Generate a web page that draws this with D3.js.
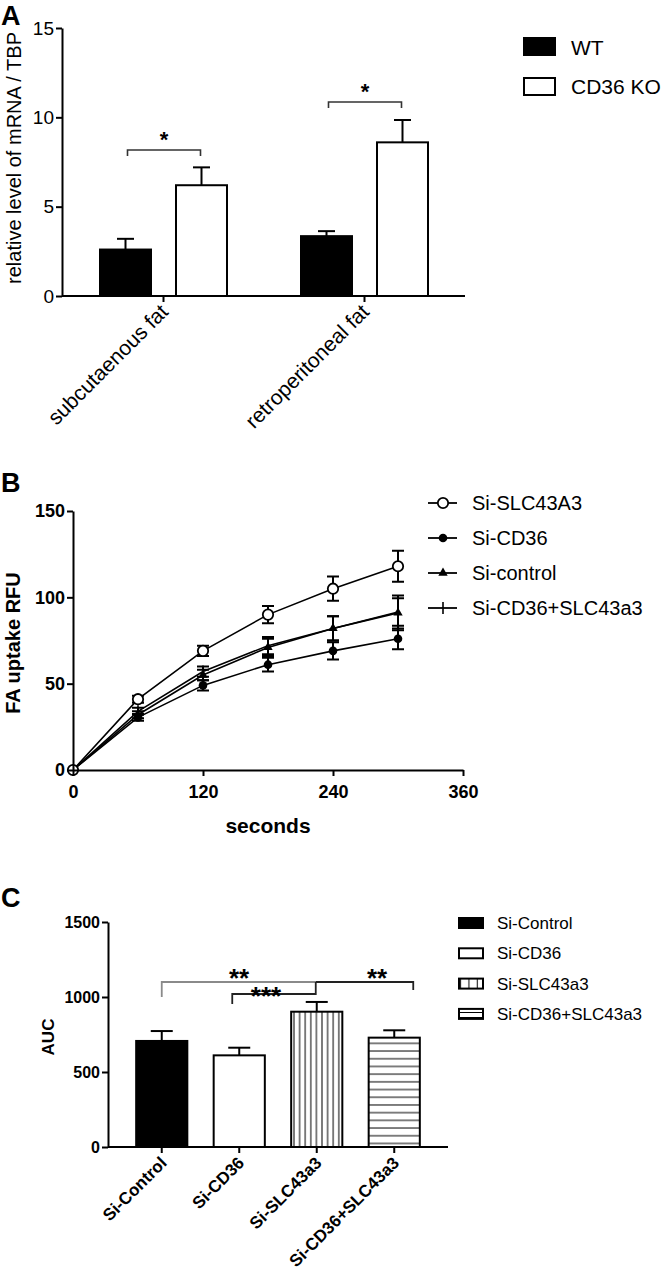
<!DOCTYPE html>
<html><head><meta charset="utf-8">
<script src="https://cdn.jsdelivr.net/npm/d3@7"></script>
<style>
body{margin:0;background:#fff}
svg{display:block}
text{font-family:"Liberation Sans",Arial,Helvetica,sans-serif;fill:#000}
</style>
</head><body>
<svg id="c" width="667" height="1274"></svg>
<script>
// ---------------- Panel A data ----------------
const aGroups = ["subcutaenous fat", "retroperitoneal fat"];
const aSeries = ["WT", "CD36 KO"];
const aWT = [2.6, 3.35];
const aKO = [6.2, 8.6];
const aWTerr = [0.6, 0.28];
const aKOerr = [1.0, 1.25];
const aYTicks = [0, 5, 10, 15];
const aSigY = [8.17, 10.86];
const aSigLeg = [7.84, 10.52];
const aSigLabel = ["*", "*"];

// ---------------- Panel B data ----------------
const bTimes = [0, 60, 120, 180, 240, 300];
const bNames = ["Si-SLC43A3", "Si-CD36", "Si-control", "Si-CD36+SLC43a3"];
const bSLC = [0, 41, 69, 90, 105, 118];
const bSLCerr = [0, 2, 3, 5, 7, 9];
const bCD36 = [0, 30.5, 49, 61, 69, 76];
const bCD36err = [0, 2, 3, 4, 5, 6];
const bControl = [0, 32, 55, 71, 82, 91];
const bControlErr = [0, 2, 3, 5, 7, 10];
const bCombo = [0, 34, 57, 72, 82, 91.5];
const bComboErr = [0, 2, 3, 5, 7, 8];
const bXTicks = [0, 120, 240, 360];
const bYTicks = [0, 50, 100, 150];

// ---------------- Panel C data ----------------
const cCats = ["Si-Control", "Si-CD36", "Si-SLC43a3", "Si-CD36+SLC43a3"];
const cValues = [707, 611, 902, 729];
const cErrors = [66, 51, 65, 49];
const cYTicks = [0, 500, 1000, 1500];

const svg = d3.select("#c");
const defs = svg.append("defs");
function stripes(id, w, h, vertical) {
  const p = defs.append("pattern").attr("id", id).attr("patternUnits", "userSpaceOnUse")
    .attr("width", w).attr("height", h);
  p.append("rect").attr("width", w).attr("height", h).attr("fill", "#fff");
  if (vertical) p.append("line").attr("x1", w/2).attr("x2", w/2).attr("y1", 0).attr("y2", h).attr("stroke", "#000").attr("stroke-width", 1);
  else p.append("line").attr("x1", 0).attr("x2", w).attr("y1", h/2).attr("y2", h/2).attr("stroke", "#000").attr("stroke-width", 1);
}
stripes("vstr", 5.6, 10, true);
stripes("hstr", 10, 7.7, false);
stripes("vstrL", 8.3, 10, true);
stripes("hstrL", 10, 5, false);

function styleAxis(g, fs, bold) {
  g.selectAll("path,line").attr("stroke", "#000").attr("stroke-width", 2);
  g.selectAll("text").attr("font-size", fs).attr("font-weight", bold ? "bold" : "normal")
    .attr("font-family", '"Liberation Sans",Arial,sans-serif').attr("fill", "#000");
}

// ================= Panel A =================
svg.append("text").attr("x", 1).attr("y", 25).attr("font-size", 27).attr("font-weight", "bold").text("A");
const aY = d3.scaleLinear().domain([0, 15]).range([296, 28]);
const aX0 = d3.scaleBand().domain(aGroups).range([63, 465]);
const aX1 = d3.scaleBand().domain(aSeries).range([37, 164]).paddingInner(0.329);
const aVals = [aWT, aKO], aErrs = [aWTerr, aKOerr];
const aFill = ["#000", "#fff"];
aGroups.forEach((g, gi) => {
  aSeries.forEach((s, si) => {
    const x = aX0(g) + aX1(s), w = aX1.bandwidth(), v = aVals[si][gi], e = aErrs[si][gi];
    const cx = x + w/2;
    svg.append("line").attr("x1", cx).attr("x2", cx).attr("y1", aY(v)).attr("y2", aY(v + e)).attr("stroke", "#000").attr("stroke-width", 2);
    svg.append("line").attr("x1", cx - 8.5).attr("x2", cx + 8.5).attr("y1", aY(v + e)).attr("y2", aY(v + e)).attr("stroke", "#000").attr("stroke-width", 2);
    svg.append("rect").attr("x", x).attr("y", aY(v)).attr("width", w).attr("height", aY(0) - aY(v))
      .attr("fill", aFill[si]).attr("stroke", "#000").attr("stroke-width", 2);
  });
  const xl = aX0(g) + aX1(aSeries[0]) + aX1.bandwidth()/2 + 2;
  const xr = aX0(g) + aX1(aSeries[1]) + aX1.bandwidth()/2 - 1;
  svg.append("path").attr("d", `M${xl},${aY(aSigLeg[gi])}V${aY(aSigY[gi])}H${xr}V${aY(aSigLeg[gi])}`)
    .attr("fill", "none").attr("stroke", "#333").attr("stroke-width", 1.6);
  svg.append("text").attr("x", (xl + xr)/2).attr("y", aY(aSigY[gi]) - 3).attr("text-anchor", "middle")
    .attr("font-size", 22).attr("font-weight", "bold").text(aSigLabel[gi]);
});
const aYAxis = svg.append("g").attr("transform", "translate(62,0)")
  .call(d3.axisLeft(aY).tickValues(aYTicks).tickSize(6).tickPadding(2).tickSizeOuter(0));
styleAxis(aYAxis, 19, false);
const aXAxis = svg.append("g").attr("transform", "translate(0,296)")
  .call(d3.axisBottom(aX0).tickSize(6).tickSizeOuter(0));
aXAxis.select(".domain").attr("d", "M62,0H465");
styleAxis(aXAxis, 21, false);
aXAxis.selectAll("text").attr("text-anchor", "end").attr("dy", 0).attr("y", 0)
  .attr("transform", "translate(6,17) rotate(-45)");
svg.append("text").attr("transform", "translate(21,158) rotate(-90)").attr("text-anchor", "middle")
  .attr("font-size", 20).text("relative level of mRNA / TBP");
aSeries.forEach((s, i) => {
  svg.append("rect").attr("x", 524).attr("y", 38 + i*40).attr("width", 31).attr("height", 17)
    .attr("fill", aFill[i]).attr("stroke", "#000").attr("stroke-width", 2);
  svg.append("text").attr("x", 571).attr("y", 55 + i*39).attr("font-size", 21).text(s);
});

// ================= Panel B =================
svg.append("text").attr("x", 1).attr("y", 492).attr("font-size", 27).attr("font-weight", "bold").text("B");
const bX = d3.scaleLinear().domain([0, 360]).range([73, 463]);
const bY = d3.scaleLinear().domain([0, 150]).range([770, 511]);
const bData = [[bSLC, bSLCerr], [bCD36, bCD36err], [bControl, bControlErr], [bCombo, bComboErr]];
const line = d3.line().x((d, i) => bX(bTimes[i])).y(d => bY(d));
bData.forEach(([v]) => {
  svg.append("path").attr("d", line(v)).attr("fill", "none").attr("stroke", "#000").attr("stroke-width", 1.6);
});
bData.forEach(([v, e]) => {
  v.forEach((d, i) => {
    if (!e[i]) return;
    const x = bX(bTimes[i]);
    svg.append("path").attr("d", `M${x},${bY(d - e[i])}V${bY(d + e[i])}M${x-6},${bY(d - e[i])}H${x+6}M${x-6},${bY(d + e[i])}H${x+6}`)
      .attr("fill", "none").attr("stroke", "#000").attr("stroke-width", 2);
  });
});
function marker(sel, k) {
  if (k === 0) sel.append("circle").attr("r", 5.2).attr("fill", "#fff").attr("stroke", "#000").attr("stroke-width", 1.8);
  else if (k === 1) sel.append("circle").attr("r", 4.3).attr("fill", "#000");
  else if (k === 2) sel.append("path").attr("d", d3.symbol().type(d3.symbolTriangle).size(38)()).attr("fill", "#000");
  else sel.append("path").attr("d", "M0,-6V6").attr("stroke", "#000").attr("stroke-width", 1.6);
}
[3, 2, 1, 0].forEach(k => {
  bData[k][0].forEach((d, i) => {
    const g = svg.append("g").attr("transform", `translate(${bX(bTimes[i])},${bY(d)})`);
    marker(g, k);
  });
});
const bYAxis = svg.append("g").attr("transform", "translate(73,0)")
  .call(d3.axisLeft(bY).tickValues(bYTicks).tickSize(6).tickPadding(2).tickSizeOuter(0));
styleAxis(bYAxis, 18, true);
const bXAxis = svg.append("g").attr("transform", "translate(0,770)")
  .call(d3.axisBottom(bX).tickValues(bXTicks).tickSize(6).tickPadding(9).tickSizeOuter(0));
styleAxis(bXAxis, 18, true);
svg.append("text").attr("transform", "translate(20,643) rotate(-90)").attr("text-anchor", "middle")
  .attr("font-size", 20).attr("font-weight", "bold").text("FA uptake RFU");
svg.append("text").attr("x", 268).attr("y", 833).attr("text-anchor", "middle")
  .attr("font-size", 21).attr("font-weight", "bold").text("seconds");
bNames.forEach((n, k) => {
  const y = 503 + k*35;
  svg.append("line").attr("x1", 428).attr("x2", 457).attr("y1", y).attr("y2", y).attr("stroke", "#000").attr("stroke-width", 1.8);
  marker(svg.append("g").attr("transform", `translate(443,${y})`), k);
  svg.append("text").attr("x", 472).attr("y", y + 7).attr("font-size", 20).text(n);
});

// ================= Panel C =================
svg.append("text").attr("x", 1).attr("y", 907).attr("font-size", 27).attr("font-weight", "bold").text("C");
const cX = d3.scaleBand().domain(cCats).range([123, 433]).paddingInner(0.34).paddingOuter(0.17);
const cY = d3.scaleLinear().domain([0, 1500]).range([1147, 922]);
const cFill = ["#000", "#fff", "url(#vstr)", "url(#hstr)"];
const cFillL = ["#000", "#fff", "url(#vstrL)", "url(#hstrL)"];
cCats.forEach((c, i) => {
  const x = cX(c), w = cX.bandwidth(), cx = x + w/2, v = cValues[i], e = cErrors[i];
  svg.append("line").attr("x1", cx).attr("x2", cx).attr("y1", cY(v)).attr("y2", cY(v + e)).attr("stroke", "#000").attr("stroke-width", 2);
  svg.append("line").attr("x1", cx - 11).attr("x2", cx + 11).attr("y1", cY(v + e)).attr("y2", cY(v + e)).attr("stroke", "#000").attr("stroke-width", 2);
  svg.append("rect").attr("x", x).attr("y", cY(v)).attr("width", w).attr("height", cY(0) - cY(v))
    .attr("fill", cFill[i]).attr("stroke", "#000").attr("stroke-width", 2);
});
const cc = c => cX(c) + cX.bandwidth()/2;
svg.append("path").attr("d", `M${cc(cCats[0])},${cY(1000)}V${cY(1100)}H${cc(cCats[2]) - 1}`)
  .attr("fill", "none").attr("stroke", "#8a8a8a").attr("stroke-width", 1.8);
svg.append("path").attr("d", `M${cc(cCats[2]) - 1},${cY(1100)}H${cc(cCats[3]) + 19}V${cY(1047)}`)
  .attr("fill", "none").attr("stroke", "#222").attr("stroke-width", 1.8);
svg.append("path").attr("d", `M${cc(cCats[1]) - 7},${cY(953)}V${cY(1020)}H${cc(cCats[2]) - 1}V${cY(1100)}`)
  .attr("fill", "none").attr("stroke", "#222").attr("stroke-width", 1.8);
svg.append("text").attr("x", 239).attr("y", cY(1100) + 5).attr("text-anchor", "middle").attr("font-size", 26).attr("font-weight", "bold").attr("fill", "#333").text("**");
svg.append("text").attr("x", 377).attr("y", cY(1100) + 5).attr("text-anchor", "middle").attr("font-size", 26).attr("font-weight", "bold").attr("fill", "#333").text("**");
svg.append("text").attr("x", 266).attr("y", cY(1020) + 11).attr("text-anchor", "middle").attr("font-size", 26).attr("font-weight", "bold").attr("fill", "#333").text("***");

const cYAxis = svg.append("g").attr("transform", "translate(108,0)")
  .call(d3.axisLeft(cY).tickValues(cYTicks).tickFormat(d3.format("d")).tickSize(6).tickPadding(2).tickSizeOuter(0));
styleAxis(cYAxis, 16, true);
const cXAxis = svg.append("g").attr("transform", "translate(0,1147)")
  .call(d3.axisBottom(cX).tickSize(6).tickSizeOuter(0));
cXAxis.select(".domain").attr("d", "M108,0H448");
styleAxis(cXAxis, 17, true);
cXAxis.selectAll("text").attr("text-anchor", "end").attr("dy", 0).attr("y", 0)
  .attr("transform", "translate(6,17) rotate(-45)");
svg.append("text").attr("transform", "translate(54,1037) rotate(-90)").attr("text-anchor", "middle")
  .attr("font-size", 17).attr("font-weight", "bold").text("AUC");
cCats.forEach((c, i) => {
  const y = 923 + i*30.3;
  svg.append("rect").attr("x", 459).attr("y", y - 5).attr("width", 24).attr("height", 10)
    .attr("fill", cFillL[i]).attr("stroke", "#000").attr("stroke-width", 2);
  svg.append("text").attr("x", 497).attr("y", y + 6).attr("font-size", 17).text(c);
});
</script>
</body></html>
